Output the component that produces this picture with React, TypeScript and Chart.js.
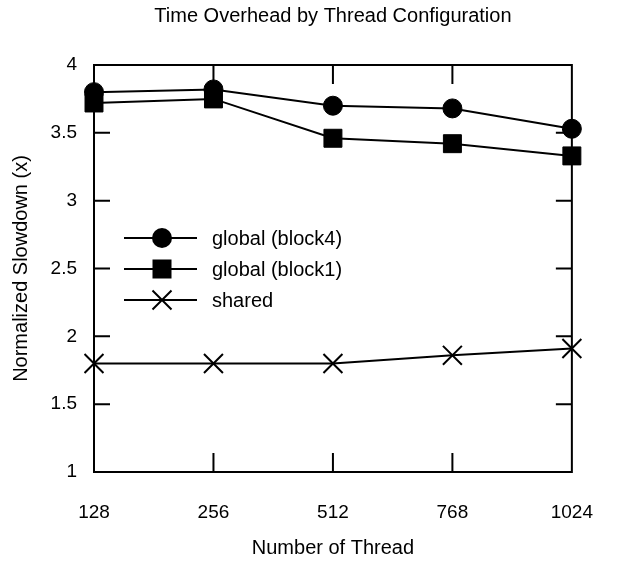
import React, { useEffect, useRef } from 'react';
import { Chart, registerables } from 'chart.js';

Chart.register(...registerables);

const categories = ['128', '256', '512', '768', '1024'];
const globalBlock4 = [3.8, 3.82, 3.7, 3.68, 3.53];
const globalBlock1 = [3.72, 3.75, 3.46, 3.42, 3.33];
const sharedValues = [1.8, 1.8, 1.8, 1.86, 1.91];
const yTickValues = [1, 1.5, 2, 2.5, 3, 3.5, 4];
const seriesLabels = ['global (block4)', 'global (block1)', 'shared'];
const titleText = 'Time Overhead by Thread Configuration';
const xTitle = 'Number of Thread';
const yTitle = 'Normalized Slowdown (x)';

const FONT = '"Liberation Sans", Arial, sans-serif';

function drawMarker(ctx: CanvasRenderingContext2D, style: string, x: number, y: number) {
  ctx.save();
  ctx.fillStyle = '#000';
  ctx.strokeStyle = '#000';
  if (style === 'circle') {
    ctx.beginPath();
    ctx.arc(x, y, 10, 0, Math.PI * 2);
    ctx.fill();
  } else if (style === 'rect') {
    ctx.fillRect(x - 9.5, y - 9.5, 19, 19);
  } else {
    ctx.lineWidth = 2;
    ctx.beginPath();
    ctx.moveTo(x - 9.5, y - 9.5);
    ctx.lineTo(x + 9.5, y + 9.5);
    ctx.moveTo(x + 9.5, y - 9.5);
    ctx.lineTo(x - 9.5, y + 9.5);
    ctx.stroke();
  }
  ctx.restore();
}

const framePlugin = {
  id: 'frame',
  beforeDatasetsDraw(chart: any) {
    const { ctx, chartArea: a, scales } = chart;
    ctx.save();
    ctx.strokeStyle = '#000';
    ctx.lineWidth = 2;
    ctx.beginPath();
    ctx.rect(a.left, a.top, a.right - a.left, a.bottom - a.top);
    categories.forEach((_, i) => {
      const px = scales.x.getPixelForValue(i);
      ctx.moveTo(px, a.top);
      ctx.lineTo(px, a.top + 19);
      ctx.moveTo(px, a.bottom);
      ctx.lineTo(px, a.bottom - 19);
    });
    yTickValues.forEach((v) => {
      const py = scales.y.getPixelForValue(v);
      ctx.moveTo(a.left, py);
      ctx.lineTo(a.left + 16, py);
      ctx.moveTo(a.right, py);
      ctx.lineTo(a.right - 16, py);
    });
    ctx.stroke();
    ctx.restore();
  },
};

const legendPlugin = {
  id: 'innerLegend',
  afterDatasetsDraw(chart: any) {
    const { ctx, chartArea: a } = chart;
    const styles = ['circle', 'rect', 'crossRot'];
    ctx.save();
    chart.data.datasets.forEach((ds: any, i: number) => {
      const y = a.top + 173 + i * 31;
      const x0 = a.left + 30;
      ctx.strokeStyle = '#000';
      ctx.lineWidth = 2;
      ctx.beginPath();
      ctx.moveTo(x0, y);
      ctx.lineTo(x0 + 73, y);
      ctx.stroke();
      drawMarker(ctx, styles[i], x0 + 38, y);
      ctx.fillStyle = '#000';
      ctx.font = `20px ${FONT}`;
      ctx.textBaseline = 'middle';
      ctx.textAlign = 'left';
      ctx.fillText(ds.label, x0 + 88, y + 1);
    });
    ctx.restore();
  },
};

export default function App() {
  const ref = useRef<HTMLCanvasElement>(null);
  useEffect(() => {
    document.body.style.margin = '0';
    const canvas = ref.current;
    if (!canvas) return;
    const chart = new Chart(canvas, {
      type: 'line',
      data: {
        labels: categories,
        datasets: [
          {
            label: seriesLabels[0],
            data: globalBlock4,
            borderColor: '#000',
            backgroundColor: '#000',
            borderWidth: 2,
            pointStyle: 'circle',
            pointRadius: 9.5,
            pointBorderWidth: 1,
            pointBackgroundColor: '#000',
            pointBorderColor: '#000',
            tension: 0,
          },
          {
            label: seriesLabels[1],
            data: globalBlock1,
            borderColor: '#000',
            backgroundColor: '#000',
            borderWidth: 2,
            pointStyle: 'rect',
            pointRadius: 12.7,
            pointBorderWidth: 1,
            pointBackgroundColor: '#000',
            pointBorderColor: '#000',
            tension: 0,
          },
          {
            label: seriesLabels[2],
            data: sharedValues,
            borderColor: '#000',
            backgroundColor: '#000',
            borderWidth: 2,
            pointStyle: 'crossRot',
            pointRadius: 13.4,
            pointBorderWidth: 2,
            pointBackgroundColor: '#000',
            pointBorderColor: '#000',
            tension: 0,
          },
        ],
      },
      options: {
        animation: false,
        responsive: false,
        devicePixelRatio: 1,
        layout: { padding: { left: 0, right: 35, top: 0, bottom: 0 } },
        plugins: {
          legend: { display: false },
          tooltip: { enabled: false },
          title: {
            display: true,
            fullSize: false,
            text: titleText,
            color: '#000',
            font: { family: FONT, size: 20, weight: 'normal' },
            padding: { top: 4, bottom: 37 },
          },
        },
        scales: {
          x: {
            type: 'category',
            offset: false,
            grid: { display: false, drawTicks: false },
            border: { display: false },
            ticks: { color: '#000', font: { family: FONT, size: 19 }, padding: 29, maxRotation: 0, autoSkip: false },
            title: {
              display: true,
              text: xTitle,
              color: '#000',
              font: { family: FONT, size: 20 },
              padding: { top: 0, bottom: 3 },
            },
            afterFit: (s: any) => {
              s.height = 91;
            },
          },
          y: {
            min: 1,
            max: 4,
            grid: { display: false, drawTicks: false },
            border: { display: false },
            ticks: {
              color: '#000',
              font: { family: FONT, size: 19 },
              padding: 17,
              stepSize: 0.5,
              callback: (v: any) => String(Number(v)),
            },
            afterBuildTicks: (s: any) => {
              s.ticks = yTickValues.map((v) => ({ value: v }));
            },
            title: {
              display: true,
              text: yTitle,
              color: '#000',
              font: { family: FONT, size: 20 },
              padding: { top: 9, bottom: 0 },
            },
            afterFit: (s: any) => {
              s.width = 94;
            },
          },
        },
      },
      plugins: [framePlugin, legendPlugin],
    } as any);
    return () => chart.destroy();
  }, []);
  return (
    <div style={{ width: 622, height: 563, background: '#fff' }}>
      <canvas ref={ref} width={622} height={563} style={{ display: 'block' }} />
    </div>
  );
}
